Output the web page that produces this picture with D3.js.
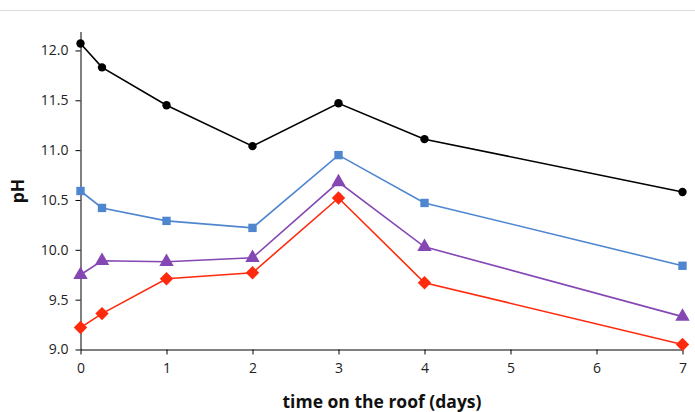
<!DOCTYPE html>
<html><head><meta charset="utf-8">
<script src="https://cdn.jsdelivr.net/npm/d3@7"></script>
<style>
html,body{margin:0;padding:0;background:#fff;}
svg{display:block;}
</style></head>
<body>
<svg id="chart" width="695" height="412"></svg>
<script>
const days = [0, 0.25, 1, 2, 3, 4, 7];
const seriesBlack  = [12.07, 11.83, 11.45, 11.04, 11.47, 11.11, 10.58];
const seriesBlue   = [10.59, 10.42, 10.29, 10.22, 10.95, 10.47, 9.84];
const seriesPurple = [9.75, 9.89, 9.88, 9.92, 10.68, 10.03, 9.33];
const seriesRed    = [9.22, 9.36, 9.71, 9.77, 10.52, 9.67, 9.05];
const xTicks = [0, 1, 2, 3, 4, 5, 6, 7];
const yTicks = [9.0, 9.5, 10.0, 10.5, 11.0, 11.5, 12.0];
const xTitle = "time on the roof (days)";
const yTitle = "pH";

const series = [
  {values: seriesBlack,  color: "#000000", shape: "circle"},
  {values: seriesBlue,   color: "#4f86d0", shape: "square"},
  {values: seriesPurple, color: "#8547b4", shape: "triangle"},
  {values: seriesRed,    color: "#ff2a0d", shape: "diamond"}
];

const svg = d3.select("#chart");
const font = "'Open Sans', sans-serif";

// top separator line
svg.append("line").attr("x1", 0).attr("x2", 695).attr("y1", 10.5).attr("y2", 10.5)
  .attr("stroke", "#dcdcdc").attr("stroke-width", 1);

const x = d3.scaleLinear().domain([0, 7]).range([80.5, 682.5]);
const y = d3.scaleLinear().domain([9, 12.19]).range([349.5, 31.5]);

// y axis
const yAxis = svg.append("g").attr("transform", `translate(${x(0)},0)`)
  .call(d3.axisLeft(y).tickValues(yTicks).tickFormat(d3.format(".1f")).tickSize(5).tickSizeOuter(0));
yAxis.select(".domain").attr("stroke", "#000");
yAxis.selectAll("line").attr("stroke", "#000");
yAxis.selectAll("text").attr("font-family", font).attr("font-size", 14).attr("fill", "#222").attr("x", -12);

// x axis
const xAxis = svg.append("g").attr("transform", `translate(0,${y(9)})`)
  .call(d3.axisBottom(x).tickValues(xTicks).tickFormat(d3.format("d")).tickSize(5).tickSizeOuter(0));
xAxis.select(".domain").attr("stroke", "#000");
xAxis.selectAll("line").attr("stroke", "#000");
xAxis.selectAll("text").attr("font-family", font).attr("font-size", 14).attr("fill", "#222").attr("y", 14);

// titles
svg.append("text").attr("x", 382).attr("y", 408).attr("text-anchor", "middle")
  .attr("font-family", font).attr("font-weight", "bold").attr("font-size", 17.5).attr("fill", "#111")
  .text(xTitle);
svg.append("text").attr("transform", "translate(24,191) rotate(-90)").attr("text-anchor", "middle")
  .attr("font-family", font).attr("font-weight", "bold").attr("font-size", 17.5).attr("fill", "#111")
  .text(yTitle);

const line = d3.line().x((d, i) => x(days[i])).y(d => y(d));
const symbolMap = {
  circle: d3.symbolCircle, square: d3.symbolSquare,
  triangle: d3.symbolTriangle, diamond: d3.symbolSquare
};
const sizeMap = {circle: 55, square: 70, triangle: 90, diamond: 90};
const rotMap = {circle: 0, square: 0, triangle: 0, diamond: 45};

series.forEach(s => {
  svg.append("path").datum(s.values).attr("d", line)
    .attr("fill", "none").attr("stroke", s.color).attr("stroke-width", 1.6);
  svg.append("g").selectAll("path").data(s.values).join("path")
    .attr("transform", (d, i) => `translate(${x(days[i])},${y(d)}) rotate(${rotMap[s.shape]})`)
    .attr("d", d3.symbol().type(symbolMap[s.shape]).size(sizeMap[s.shape]))
    .attr("fill", s.color);
});
</script>
</body></html>
